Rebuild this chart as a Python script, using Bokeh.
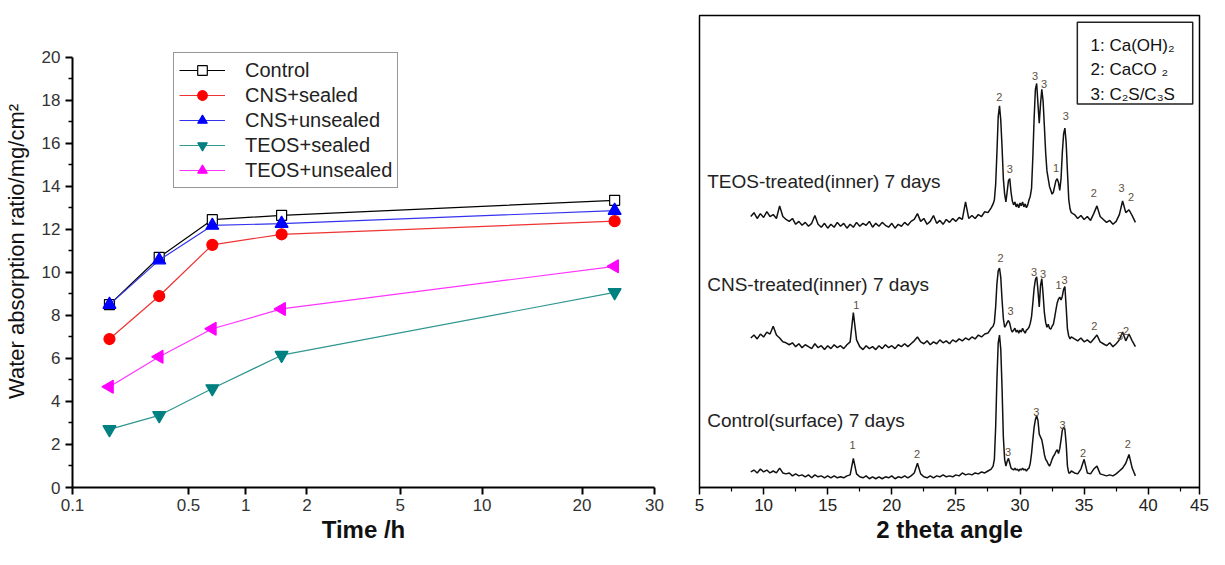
from bokeh.plotting import figure
from bokeh.layouts import row
from bokeh.models import (Range1d, FixedTicker, CustomJSTransform, CustomJSTickFormatter,
                          ColumnDataSource)
from bokeh.transform import transform
from bokeh.core.properties import value
from bokeh.embed import file_html
from bokeh.resources import INLINE
import math

# ---------------- Left panel data: water absorption ----------------
TIME_H = [0.167, 0.333, 0.667, 1.5, 24.0]
CONTROL = [8.5, 10.7, 12.45, 12.65, 13.35]
CNS_SEALED = [6.9, 8.9, 11.28, 11.77, 12.38]
CNS_UNSEALED = [8.5, 10.57, 12.18, 12.27, 12.87]
TEOS_SEALED = [2.7, 3.35, 4.6, 6.15, 9.07]
TEOS_UNSEALED = [4.68, 6.08, 7.38, 8.3, 10.28]
SERIES_NAMES = ["Control", "CNS+sealed", "CNS+unsealed", "TEOS+sealed", "TEOS+unsealed"]
TIME_TICKS = [0.1, 0.5, 1, 2, 5, 10, 20, 30]
TIME_TICK_LABELS = ["0.1", "0.5", "1", "2", "5", "10", "20", "30"]
Y_TICKS = [0, 2, 4, 6, 8, 10, 12, 14, 16, 18, 20]

# ---------------- Right panel data: XRD patterns ----------------
XRD_2THETA = [
    9.0, 9.25, 9.5, 9.75, 10.0, 10.25, 10.5, 10.75, 11.0, 11.25, 11.5, 11.75,
    12.0, 12.25, 12.5, 12.75, 13.0, 13.25, 13.5, 13.75, 14.0, 14.25, 14.5, 14.75,
    15.0, 15.25, 15.5, 15.75, 16.0, 16.25, 16.5, 16.75, 17.0, 17.25, 17.5, 17.75,
    18.0, 18.25, 18.5, 18.75, 19.0, 19.25, 19.5, 19.75, 20.0, 20.25, 20.5, 20.75,
    21.0, 21.25, 21.5, 21.75, 22.0, 22.25, 22.5, 22.75, 23.0, 23.25, 23.5, 23.75,
    24.0, 24.25, 24.5, 24.75, 25.0, 25.25, 25.5, 25.75, 26.0, 26.25, 26.5, 26.75,
    27.0, 27.25, 27.5, 27.75,
    27.9, 28.0, 28.1, 28.2, 28.3, 28.4, 28.5, 28.6, 28.7, 28.8, 28.9, 29.0,
    29.1, 29.2, 29.3, 29.4, 29.5, 29.6, 29.7, 29.8, 29.9, 30.0, 30.1, 30.2,
    30.3, 30.4, 30.5, 30.6, 30.7, 30.8, 30.9, 31.0, 31.1, 31.2, 31.3, 31.4,
    31.5, 31.6, 31.7, 31.8, 31.9, 32.0, 32.1, 32.2, 32.3, 32.4, 32.5, 32.6,
    32.7, 32.8, 32.9, 33.0, 33.1, 33.2, 33.3, 33.4, 33.5, 33.6, 33.7, 33.8,
    33.9, 34.0,
    34.25, 34.5, 34.75, 35.0, 35.25, 35.5, 35.75, 36.0, 36.25, 36.5, 36.75, 37.0,
    37.25, 37.5, 37.75, 38.0, 38.25, 38.5, 38.75, 39.0,
]

XRD_TEOS = [
    279, 283, 277, 282, 278, 284, 279, 281, 277, 290, 279, 276,
    274, 277, 271, 274, 270, 273, 269, 272, 280, 271, 268, 272,
    267, 271, 268, 273, 269, 272, 267, 271, 268, 273, 269, 272,
    270, 274, 268, 272, 269, 273, 270, 268, 272, 267, 271, 269,
    273, 270, 274, 276, 282, 274, 277, 271, 274, 280, 272, 275,
    271, 276, 273, 277, 274, 278, 276, 294, 277, 280, 277, 281,
    279, 284, 283, 288,
    292, 296, 312, 345, 382, 393, 378, 350, 318, 302, 294, 305,
    316, 318, 304, 295, 291, 294, 289, 292, 288, 293, 290, 294,
    289, 292, 288, 291, 296, 300, 308, 340, 380, 410, 416, 395,
    375, 395, 410, 398, 372, 345, 326, 318, 310, 306, 302, 304,
    310, 316, 318, 314, 306, 318, 345, 364, 370, 355, 325, 297,
    287, 283,
    281, 277, 280, 276, 279, 275, 282, 290, 279, 276, 273, 275,
    271, 274, 281, 295, 283, 286, 280, 273,
]

XRD_CNS = [
    154, 157, 153, 158, 155, 160, 158, 166, 157, 154, 150, 149,
    147, 149, 145, 148, 144, 147, 145, 143, 148, 144, 146, 142,
    146, 143, 147, 144, 146, 143, 147, 150, 180, 152, 145, 142,
    146, 143, 145, 142, 146, 143, 147, 144, 146, 143, 147, 145,
    148, 145, 148, 151, 155, 150, 148, 151, 147, 150, 148, 152,
    149, 151, 148, 152, 150, 153, 151, 154, 152, 155, 153, 157,
    155, 158, 159, 164,
    166, 170, 186, 210, 223, 226, 216, 193, 174, 165, 167, 170,
    172, 169, 163, 160, 162, 164, 160, 162, 159, 162, 160, 164,
    161, 159, 162, 163, 165, 169, 176, 190, 205, 214, 217, 203,
    186, 208, 215, 199, 180, 170, 165, 168, 164, 163, 166, 168,
    175, 183, 190, 194, 196, 193, 197, 204, 207, 186, 163, 156,
    153, 155,
    153, 151, 154, 150, 152, 149, 153, 157, 150, 148, 146, 149,
    145, 148, 152, 160, 151, 158, 151, 145,
]

XRD_CONTROL = [
    16, 18, 15, 19, 16, 18, 15, 17, 15, 20, 15, 14,
    15, 12, 14, 12, 13, 11, 13, 10, 13, 11, 12, 10,
    12, 10, 12, 10, 11, 10, 12, 13, 30, 14, 11, 10,
    12, 9, 11, 9, 11, 9, 11, 10, 12, 9, 11, 10,
    12, 10, 12, 15, 25, 14, 11, 10, 12, 10, 12, 11,
    13, 11, 12, 11, 13, 12, 15, 13, 14, 13, 15, 14,
    16, 15, 17, 19,
    22, 29, 62, 112, 149, 157, 142, 102, 52, 29, 22, 27,
    30, 25, 20, 19, 18, 20, 18, 19, 17, 19, 18, 20,
    18, 19, 17, 19, 20, 25, 35, 49, 62, 70, 74, 69,
    55, 52, 49, 42, 34, 29, 27, 24, 22, 25, 29, 32,
    34, 37, 39, 35, 40, 49, 59, 62, 60, 45, 22, 15,
    15, 17,
    15, 14, 19, 29, 15, 14, 19, 22, 14, 13, 12, 13,
    12, 14, 17, 20, 25, 34, 20, 12,
]

assert len(XRD_TEOS) == len(XRD_2THETA), (len(XRD_TEOS), len(XRD_2THETA))
assert len(XRD_CNS) == len(XRD_2THETA), (len(XRD_CNS), len(XRD_2THETA))
assert len(XRD_CONTROL) == len(XRD_2THETA), (len(XRD_CONTROL), len(XRD_2THETA))

XRD_SAMPLE_NAMES = ["TEOS-treated(inner) 7 days", "CNS-treated(inner) 7 days",
                    "Control(surface) 7 days"]

TEOS_PEAK_X = [28.38, 29.2, 31.18, 31.87, 32.81, 33.57, 35.76, 37.93, 38.66]
TEOS_PEAK_Y = [402, 328, 424, 415, 329, 383, 303, 308, 299]
TEOS_PEAK_T = ["2", "3", "3", "3", "1", "3", "2", "3", "2"]
CNS_PEAK_X = [17.24, 28.49, 29.27, 31.1, 31.79, 33.0, 33.47, 35.8, 37.8, 38.28]
CNS_PEAK_Y = [188, 236, 182, 222, 220, 208, 214, 166, 156, 161]
CNS_PEAK_T = ["1", "2", "3", "3", "3", "1", "3", "2", "3", "2"]
CTRL_PEAK_X = [16.93, 21.97, 29.07, 31.28, 33.32, 34.92, 38.41]
CTRL_PEAK_Y = [44, 34, 37, 78, 64, 36, 45]
CTRL_PEAK_T = ["1", "2", "3", "3", "3", "2", "2"]

PHASE_KEY = ["1: Ca(OH)\u2082", "2: CaCO \u2082", "3: C\u2082S/C\u2083S"]
X_TITLES = ["Time /h", "2 theta angle"]

# ---------------- styling / layout constants ----------------
FONT = "Liberation Sans"
NARROW = "Liberation Sans Narrow, Liberation Sans"
AXIS_POS = [0.0, 116.6, 174.2, 235.7, 329.3, 411.7, 512.2, 585.0]  # relative layout of time ticks
FIG_H = 549
BORDER_TOP = 15
BORDER_BOTTOM = 62

# ================= Left figure =================
JS_V = """
const out = new Float64Array(xs.length);
const n = tv.length;
for (let i = 0; i < xs.length; i++) {
  const lx = Math.log10(xs[i]);
  let k = 0;
  while (k < n - 2 && lx > Math.log10(tv[k + 1])) { k++; }
  const a = Math.log10(tv[k]);
  const b = Math.log10(tv[k + 1]);
  out[i] = tp[k] + (lx - a) / (b - a) * (tp[k + 1] - tp[k]);
}
return out;
"""
JS_S = """
const lx = Math.log10(x);
const n = tv.length;
let k = 0;
while (k < n - 2 && lx > Math.log10(tv[k + 1])) { k++; }
const a = Math.log10(tv[k]);
const b = Math.log10(tv[k + 1]);
return tp[k] + (lx - a) / (b - a) * (tp[k + 1] - tp[k]);
"""
time_tr = CustomJSTransform(args=dict(tv=TIME_TICKS, tp=AXIS_POS), v_func=JS_V, func=JS_S)

# frame spans the same vertical extent as the right panel; the value axis stops at 20
p1 = figure(width=684, height=FIG_H, x_range=Range1d(0, 585), y_range=Range1d(0, 21.94),
            output_backend="svg", toolbar_location=None,
            min_border_left=72, min_border_right=30,
            min_border_top=BORDER_TOP, min_border_bottom=BORDER_BOTTOM)
p1.xgrid.visible = False
p1.ygrid.visible = False
p1.outline_line_color = None
p1.background_fill_color = "white"
p1.border_fill_color = "white"

series = [
    (SERIES_NAMES[0], CONTROL, "#000000", "#000000", "square", "white", 0.0, 10),
    (SERIES_NAMES[1], CNS_SEALED, "#ee3333", "#ff0000", "circle", "#ff0000", 0.0, 11),
    (SERIES_NAMES[2], CNS_UNSEALED, "#3333ee", "#0000ff", "triangle", "#0000ff", 0.0, 13),
    (SERIES_NAMES[3], TEOS_SEALED, "#2f9690", "#008080", "inverted_triangle", "#008080", 0.0, 13),
    (SERIES_NAMES[4], TEOS_UNSEALED, "#ff33ff", "#ff00ff", "triangle", "#ff00ff", math.pi / 2, 13),
]
for name, vals, lcol, mcol, marker, fill, ang, sz in series:
    src = ColumnDataSource(dict(t=TIME_H, v=vals))
    p1.line(x=transform("t", time_tr), y="v", source=src, line_color=lcol,
            line_width=1.2, legend_label=name)
    p1.scatter(x=transform("t", time_tr), y="v", source=src, marker=marker, size=sz,
               fill_color=fill, line_color=mcol, line_width=1.2, angle=ang,
               legend_label=name)

p1.xaxis.ticker = FixedTicker(ticks=AXIS_POS, minor_ticks=[])
p1.xaxis.formatter = CustomJSTickFormatter(args=dict(labels=TIME_TICK_LABELS),
                                           code="return labels[index];")
p1.yaxis.ticker = FixedTicker(ticks=Y_TICKS, minor_ticks=[1, 3, 5, 7, 9, 11, 13, 15, 17, 19])
p1.yaxis.bounds = (0, 20)

for ax in (p1.xaxis[0], p1.yaxis[0]):
    ax.axis_line_width = 2
    ax.axis_line_color = "black"
    ax.major_tick_line_width = 2
    ax.minor_tick_line_width = 1.5
    ax.major_tick_out = 7
    ax.major_tick_in = 0
    ax.minor_tick_out = 4
    ax.minor_tick_in = 0
    ax.major_label_text_font = NARROW
    ax.major_label_text_font_size = "17px"
    ax.major_label_text_color = "#333333"
    ax.axis_label_text_font = FONT
    ax.axis_label_text_color = "#111111"

p1.xaxis.major_label_standoff = 4
p1.yaxis.major_label_standoff = 5
p1.xaxis.axis_label = X_TITLES[0]
p1.xaxis.axis_label_text_font_style = "bold"
p1.xaxis.axis_label_text_font_size = "24px"
p1.xaxis.axis_label_standoff = 2
p1.yaxis.axis_label = "Water absorption ratio/mg/cm\u00b2"
p1.yaxis.axis_label_text_font_style = "normal"
p1.yaxis.axis_label_text_font_size = "22px"
p1.yaxis.axis_label_standoff = 10

lg = p1.legend[0]
lg.location = (101, 299)
lg.border_line_color = "#333333"
lg.border_line_width = 1
lg.background_fill_color = "white"
lg.background_fill_alpha = 1.0
lg.label_text_font = FONT
lg.label_text_font_size = "20px"
lg.label_text_color = "#222222"
lg.glyph_width = 46
lg.glyph_height = 24
lg.label_height = 24
lg.spacing = 1
lg.padding = 5
lg.margin = 0
lg.label_standoff = 20

# ================= Right figure =================
p2 = figure(width=525, height=FIG_H, x_range=Range1d(5, 44.0), y_range=Range1d(0, 486),
            output_backend="svg", toolbar_location=None,
            min_border_left=15, min_border_right=10,
            min_border_top=BORDER_TOP, min_border_bottom=BORDER_BOTTOM)
p2.xgrid.visible = False
p2.ygrid.visible = False
p2.yaxis.visible = False
p2.outline_line_color = "black"
p2.outline_line_width = 1.5
p2.background_fill_color = "white"
p2.border_fill_color = "white"

for ys in (XRD_TEOS, XRD_CNS, XRD_CONTROL):
    src = ColumnDataSource(dict(x=XRD_2THETA, y=ys))
    p2.line(x="x", y="y", source=src, line_color="#111111", line_width=1.5)

label_y = [315, 209, 69]
p2.text(x=[5.6, 5.6, 5.6], y=label_y, text=XRD_SAMPLE_NAMES,
        text_font=value(FONT), text_font_size="19px", text_color="#222222",
        text_align="left", text_baseline="middle")

for xs_, ys_, ts_ in ((TEOS_PEAK_X, TEOS_PEAK_Y, TEOS_PEAK_T),
                      (CNS_PEAK_X, CNS_PEAK_Y, CNS_PEAK_T),
                      (CTRL_PEAK_X, CTRL_PEAK_Y, CTRL_PEAK_T)):
    p2.text(x=xs_, y=ys_, text=ts_, text_font=value(FONT), text_font_size="11px",
            text_color="#5e5040", text_align="center", text_baseline="middle")

# phase key box
p2.quad(left=[34.47], right=[43.47], bottom=[395], top=[479],
        fill_color="white", line_color="#222222", line_width=1.5)
p2.text(x=[35.5, 35.5, 35.5], y=[455, 430, 405], text=PHASE_KEY,
        text_font=value(FONT), text_font_size="17px", text_color="#111111",
        text_align="left", text_baseline="middle")

p2.xaxis.ticker = FixedTicker(ticks=[5, 10, 15, 20, 25, 30, 35, 40, 44.0],
                              minor_ticks=[7.5, 12.5, 17.5, 22.5, 27.5, 32.5, 37.5, 42.5])
p2.xaxis.formatter = CustomJSTickFormatter(code="return tick > 43 ? '45' : tick.toFixed(0);")
ax2 = p2.xaxis[0]
ax2.axis_line_width = 1.5
ax2.axis_line_color = "black"
ax2.major_tick_line_width = 1.5
ax2.minor_tick_line_width = 1.2
ax2.major_tick_out = 7
ax2.major_tick_in = 0
ax2.minor_tick_out = 4
ax2.minor_tick_in = 0
ax2.major_label_standoff = 4
ax2.major_label_text_font = FONT
ax2.major_label_text_font_size = "17px"
ax2.major_label_text_color = "#222222"
ax2.axis_label = X_TITLES[1]
ax2.axis_label_text_font = FONT
ax2.axis_label_text_font_style = "bold"
ax2.axis_label_text_font_size = "24px"
ax2.axis_label_text_color = "#111111"
ax2.axis_label_standoff = 2

layout = row(p1, p2)
open("out.html", "w").write(file_html(layout, INLINE))
